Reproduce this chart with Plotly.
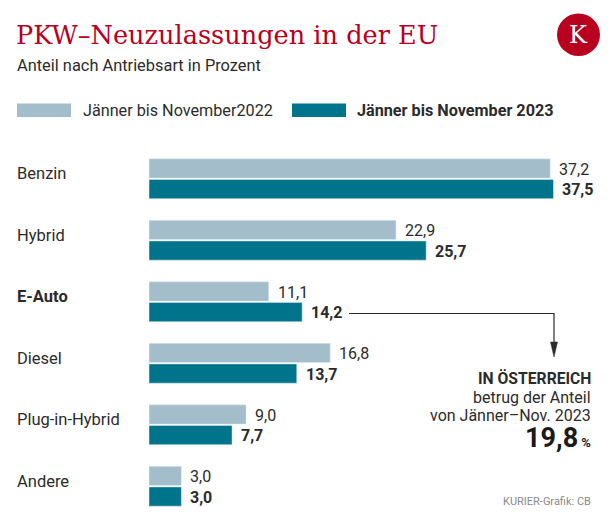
import plotly.graph_objects as go

categories = ["Benzin", "Hybrid", "E-Auto", "Diesel", "Plug-in-Hybrid", "Andere"]
values_2022 = [37.2, 22.9, 11.1, 16.8, 9.0, 3.0]
values_2023 = [37.5, 25.7, 14.2, 13.7, 7.7, 3.0]
series_names = ["Jänner bis November2022", "Jänner bis November 2023"]
bold_category = "E-Auto"

# the page body has an 8px default margin -> draw in a slightly smaller figure
OFF = 8
PAGE_W, PAGE_H = 616, 523
W, H = PAGE_W - OFF, PAGE_H - OFF
# plot area in page pixels
L, R, T, B = 149, 602, 148, 517
RED = "#b8001f"
C22 = "#a3bdca"
C23 = "#00748b"
TXT = "#2b2b2b"


def px(x):
    return (x - L) / (R - L)


def py(y):
    return (B - y) / (B - T)


def fmt(v):
    return f"{v:.1f}".replace(".", ",")


fig = go.Figure()
fig.add_trace(go.Bar(y=categories, x=values_2022, orientation="h", marker_color=C22,
                     name=series_names[0], hoverinfo="skip"))
fig.add_trace(go.Bar(y=categories, x=values_2023, orientation="h", marker_color=C23,
                     name=series_names[1], hoverinfo="skip"))

ann = []
shapes = []


def A(**kw):
    kw.setdefault("showarrow", False)
    kw.setdefault("borderpad", 0)
    kw.setdefault("borderwidth", 0)
    ann.append(kw)


# value labels
for c, v in zip(categories, values_2022):
    A(x=v, y=c, xref="x", yref="y", text=fmt(v), xanchor="left", yanchor="middle",
      xshift=9, yshift=9.5, font=dict(family="Roboto", size=16, color=TXT))
for c, v in zip(categories, values_2023):
    A(x=v, y=c, xref="x", yref="y", text="<b>" + fmt(v) + "</b>", xanchor="left", yanchor="middle",
      xshift=9, yshift=-11, font=dict(family="Roboto", size=16, color=TXT))
# category labels
for c in categories:
    t = "<b>" + c + "</b>" if c == bold_category else c
    A(x=px(16.5), y=c, xref="paper", yref="y", text=t, xanchor="left", yanchor="middle",
      yshift=5, font=dict(family="Roboto", size=16.5, color=TXT))

# title, subtitle
A(x=px(16), y=py(35), xref="paper", yref="paper", text="PKW–Neuzulassungen in der EU",
  xanchor="left", yanchor="middle", font=dict(family="DejaVu Serif", size=25.6, color=RED))
A(x=px(16.5), y=py(65), xref="paper", yref="paper", text="Anteil nach Antriebsart in Prozent",
  xanchor="left", yanchor="middle", font=dict(family="Roboto", size=16.4, color=TXT))
# logo
shapes.append(dict(type="circle", xref="paper", yref="paper", x0=px(557), x1=px(600),
                   y0=py(13.5), y1=py(56), fillcolor=RED, line=dict(width=0)))
A(x=px(578.5), y=py(35), xref="paper", yref="paper", text="K", xanchor="center", yanchor="middle",
  font=dict(family="DejaVu Serif", size=24, color="white"))
# legend
shapes.append(dict(type="rect", xref="paper", yref="paper", x0=px(17), x1=px(71),
                   y0=py(117), y1=py(103.5), fillcolor=C22, line=dict(width=0)))
A(x=px(82.5), y=py(110.5), xref="paper", yref="paper", text=series_names[0],
  xanchor="left", yanchor="middle", font=dict(family="Roboto", size=16.2, color=TXT))
shapes.append(dict(type="rect", xref="paper", yref="paper", x0=px(292), x1=px(346),
                   y0=py(117), y1=py(103.5), fillcolor=C23, line=dict(width=0)))
A(x=px(357), y=py(110.5), xref="paper", yref="paper", text="<b>" + series_names[1] + "</b>",
  xanchor="left", yanchor="middle", font=dict(family="Roboto", size=16.2, color=TXT))

# connector line and arrow
shapes.append(dict(type="path", xref="paper", yref="paper",
                   path=f"M {px(349)} {py(313.5)} L {px(554)} {py(313.5)} L {px(554)} {py(345)}",
                   line=dict(color=TXT, width=1.2)))
shapes.append(dict(type="path", xref="paper", yref="paper",
                   path=f"M {px(550.5)} {py(342)} L {px(557.5)} {py(342)} L {px(554)} {py(357)} Z",
                   fillcolor=TXT, line=dict(color=TXT, width=0.5)))

# Austria note
A(x=px(591), y=py(378), xref="paper", yref="paper", text="<b>IN ÖSTERREICH</b>",
  xanchor="right", yanchor="middle", font=dict(family="Roboto", size=15.7, color=TXT))
A(x=px(591), y=py(397), xref="paper", yref="paper", text="betrug der Anteil",
  xanchor="right", yanchor="middle", font=dict(family="Roboto", size=16, color=TXT))
A(x=px(591), y=py(415.5), xref="paper", yref="paper", text="von Jänner–Nov. 2023",
  xanchor="right", yanchor="middle", font=dict(family="Roboto", size=16, color=TXT))
A(x=px(591), y=py(438), xref="paper", yref="paper",
  text="<b>19,8</b><b><span style='font-size:13px'> %</span></b>",
  xanchor="right", yanchor="middle", font=dict(family="Roboto", size=27, color="#1a1a1a"))
# source
A(x=px(591), y=py(501), xref="paper", yref="paper", text="KURIER-Grafik: CB",
  xanchor="right", yanchor="middle", font=dict(family="Roboto", size=11, color="#8a8a8a"))

fig.update_layout(
    width=W, height=H,
    margin=dict(l=L - OFF, r=PAGE_W - R, t=T - OFF, b=PAGE_H - B, pad=0),
    paper_bgcolor="white", plot_bgcolor="white",
    barmode="group", bargap=0.33, bargroupgap=0.065,
    showlegend=False,
    xaxis=dict(range=[0, 42], visible=False, fixedrange=True),
    yaxis=dict(categoryorder="array", categoryarray=categories, range=[5.5, -0.5],
               visible=False, fixedrange=True),
    annotations=ann, shapes=shapes,
)

fig.write_html("out.html", config={"displayModeBar": False})
